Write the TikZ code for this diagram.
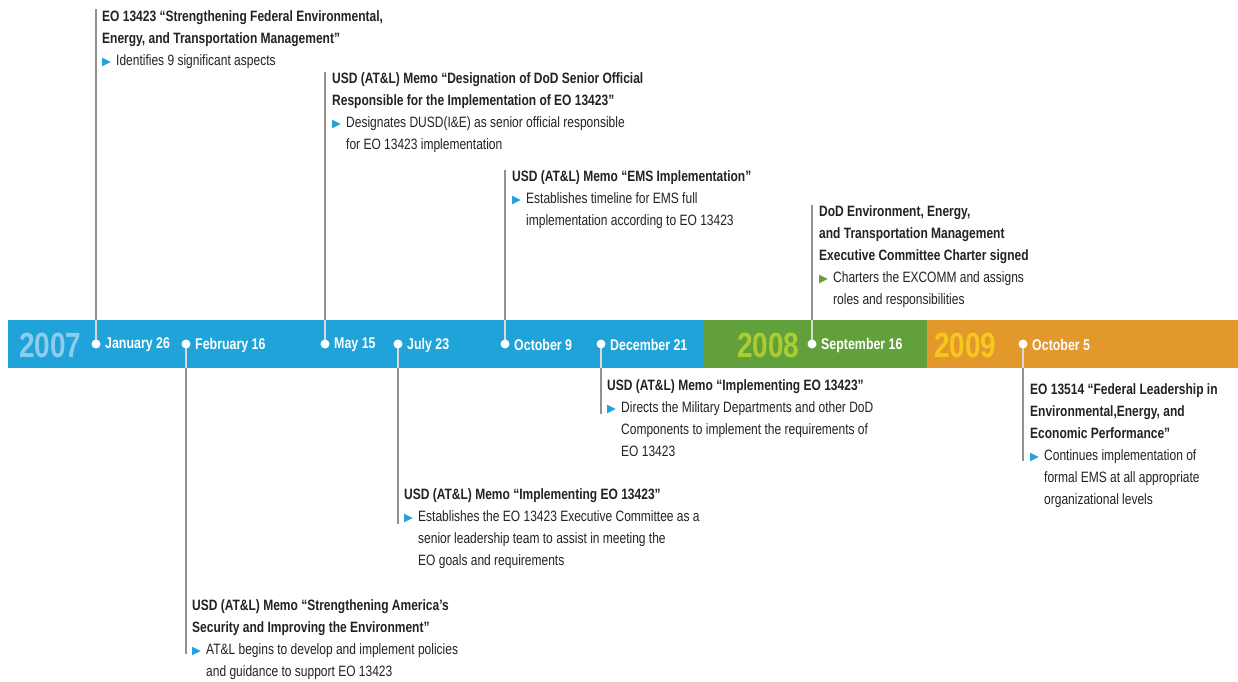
\documentclass[tikz,border=0pt]{standalone}
\usepackage{fontspec}
\setmainfont{Liberation Sans}[FakeStretch=0.8]
\newfontfamily\symfont{DejaVu Sans}
\definecolor{barblue}{RGB}{31,163,216}
\definecolor{bargreen}{RGB}{98,160,60}
\definecolor{barorange}{RGB}{226,152,42}
\definecolor{yrblue}{RGB}{140,205,235}
\definecolor{yrgreen}{RGB}{170,205,50}
\definecolor{yrorange}{RGB}{245,200,30}
\definecolor{stemgray}{RGB}{145,145,145}
\definecolor{txt}{RGB}{35,35,35}
\newcommand{\bul}[1][barblue]{\makebox[14pt][l]{\raisebox{0pt}{\symfont\fontsize{11.5}{12}\selectfont\color{#1}▶}}}
\newcommand{\ind}{\hspace*{14pt}}
\tikzset{
  evt/.style={anchor=north west, inner sep=0pt, align=left, text=txt,
    font=\fontsize{15}{22}\selectfont},
  stem/.style={draw=stemgray, line width=1.2pt},
  instem/.style={draw=white!65!stemgray, line width=1.2pt},
  dotn/.style={circle, fill=white, inner sep=0pt, minimum size=9pt},
  datel/.style={anchor=west, inner sep=0pt, text=white, font=\bfseries\fontsize{15.5}{17}\selectfont},
  yrl/.style={anchor=west, inner sep=0pt, font=\bfseries\fontsize{35}{38}\selectfont}
}
\begin{document}
\begin{tikzpicture}[x=1pt,y=-1pt]
\useasboundingbox[fill=white] (0,0) rectangle (1238,681);
% bar
\fill[barblue] (8,320) rectangle (703,368);
\fill[bargreen] (703,320) rectangle (927,368);
\fill[barorange] (927,320) rectangle (1238,368);
\coordinate (bartop) at (0,320);
\coordinate (barbot) at (0,368);
% years
\node[yrl, text=yrblue] (y7) at (19,345) {2007};
\node[yrl, text=yrgreen] (y8) at (737,345) {2008};
\node[yrl, text=yrorange] (y9) at (934,345) {2009};
% dots (positions)
\coordinate (cJan) at (96,344);
\coordinate (cFeb) at (186,344);
\coordinate (cMay) at (325,344);
\coordinate (cJul) at (398,344);
\coordinate (cOct) at (505,344);
\coordinate (cDec) at (601,344);
\coordinate (cSep) at (812,344);
\coordinate (cOct5) at (1023,344);
% stem end points
\coordinate (tJan) at (96,9);
\coordinate (tMay) at (325,72);
\coordinate (tOct) at (505,170);
\coordinate (tSep) at (812,205);
\coordinate (bDec) at (601,414);
\coordinate (bJul) at (398,524);
\coordinate (bFeb) at (186,654);
\coordinate (bOct) at (1023,461);
% stems
\foreach \c/\e/\b in {cJan/tJan/bartop, cMay/tMay/bartop, cOct/tOct/bartop, cSep/tSep/bartop,
                      cDec/bDec/barbot, cJul/bJul/barbot, cFeb/bFeb/barbot, cOct5/bOct/barbot}{
  \draw[instem] (\c) -- (\c |- \b);
  \draw[stem] (\c |- \b) -- (\e);
}
% dots
\node[dotn] (dJan) at (cJan) {};
\node[dotn] (dFeb) at (cFeb) {};
\node[dotn] (dMay) at (cMay) {};
\node[dotn] (dJul) at (cJul) {};
\node[dotn] (dOct) at (cOct) {};
\node[dotn] (dDec) at (cDec) {};
\node[dotn] (dSep) at (cSep) {};
\node[dotn] (dOct5) at (cOct5) {};
% dates
\node[datel] (lJan) at (105,345) {January 26};
\node[datel] (lFeb) at (195,345) {February 16};
\node[datel] (lMay) at (334,345) {May 15};
\node[datel] (lJul) at (407,345) {July 23};
\node[datel] (lOct) at (514,345) {October 9};
\node[datel] (lDec) at (610,345) {December 21};
\node[datel] (lSep) at (821,345) {September 16};
\node[datel] (lOct5) at (1032,345) {October 5};
% events above
\node[evt] (eJan) at (102,10) {\textbf{EO 13423 “Strengthening Federal Environmental,}\\
  \textbf{Energy, and Transportation Management”}\\
  \bul Identifies 9 significant aspects};
\node[evt] (eMay) at (332,72) {\textbf{USD (AT\&L) Memo “Designation of DoD Senior Official}\\
  \textbf{Responsible for the Implementation of EO 13423”}\\
  \bul Designates DUSD(I\&E) as senior official responsible\\
  \ind for EO 13423 implementation};
\node[evt] (eOct) at (512,170) {\textbf{USD (AT\&L) Memo “EMS Implementation”}\\
  \bul Establishes timeline for EMS full\\
  \ind implementation according to EO 13423};
\node[evt] (eSep) at (819,205) {\textbf{DoD Environment, Energy,}\\
  \textbf{and Transportation Management}\\
  \textbf{Executive Committee Charter signed}\\
  \bul[bargreen]Charters the EXCOMM and assigns\\
  \ind roles and responsibilities};
% events below
\node[evt] (eDec) at (607,379) {\textbf{USD (AT\&L) Memo “Implementing EO 13423”}\\
  \bul Directs the Military Departments and other DoD\\
  \ind Components to implement the requirements of\\
  \ind EO 13423};
\node[evt] (eJul) at (404,488) {\textbf{USD (AT\&L) Memo “Implementing EO 13423”}\\
  \bul Establishes the EO 13423 Executive Committee as a\\
  \ind senior leadership team to assist in meeting the\\
  \ind EO goals and requirements};
\node[evt] (eFeb) at (192,599) {\textbf{USD (AT\&L) Memo “Strengthening America’s}\\
  \textbf{Security and Improving the Environment”}\\
  \bul AT\&L begins to develop and implement policies\\
  \ind and guidance to support EO 13423};
\node[evt] (eOct5) at (1030,383) {\textbf{EO 13514 “Federal Leadership in}\\
  \textbf{Environmental,Energy, and}\\
  \textbf{Economic Performance”}\\
  \bul Continues implementation of\\
  \ind formal EMS at all appropriate\\
  \ind organizational levels};
\end{tikzpicture}
\end{document}
